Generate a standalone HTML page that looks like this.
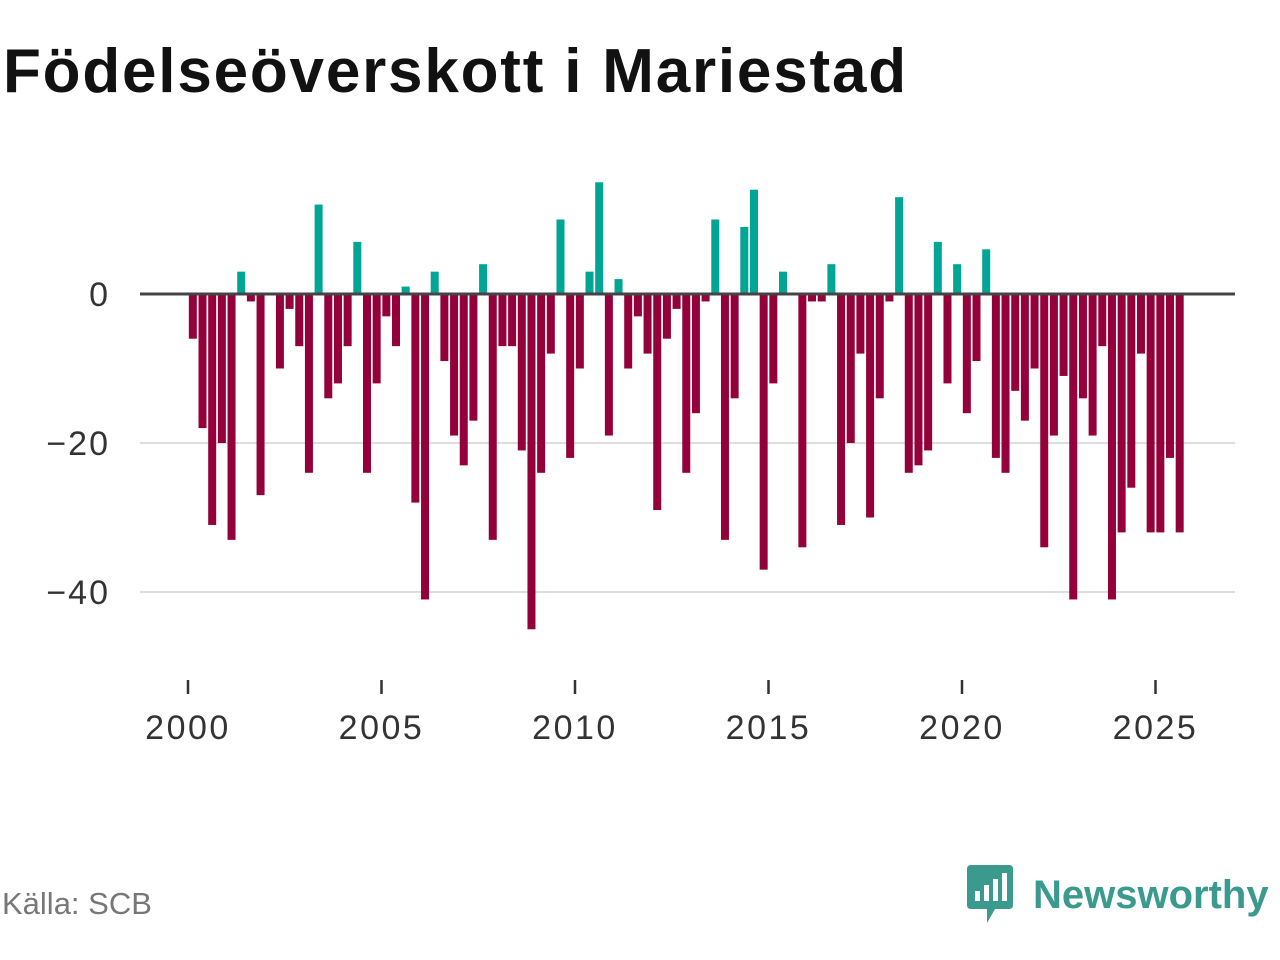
<!DOCTYPE html>
<html><head><meta charset="utf-8"><style>
body{margin:0;width:1280px;height:960px;background:#fff;overflow:hidden;font-family:"Liberation Sans",sans-serif}
#title{position:absolute;left:3px;top:36px;font-size:62px;font-weight:bold;color:#111;letter-spacing:1.8px;margin:0;white-space:nowrap}
#src{position:absolute;left:2px;top:886px;font-size:31px;color:#777}
#brand{position:absolute;left:965px;top:865px;display:flex;align-items:center}
#brand span{font-size:40px;font-weight:bold;color:#3a9a8e;margin-left:18px}
</style></head><body>
<h1 id="title">Födelseöverskott i Mariestad</h1>
<svg id="chart" width="1280" height="960" style="position:absolute;left:0;top:0"></svg>
<div id="src">Källa: SCB</div>
<div id="brand">
<svg width="50" height="60" viewBox="0 0 50 60"><path d="M2 4 Q2 0 6 0 L44 0 Q48 0 48 4 L48 40 Q48 44 44 44 L30 44 L22 58 L22 44 L6 44 Q2 44 2 40Z" fill="#3a9a8e"/><rect x="10" y="26" width="5" height="10" fill="#fff"/><rect x="19" y="20" width="5" height="16" fill="#fff"/><rect x="28" y="14" width="5" height="22" fill="#fff"/><rect x="37" y="8" width="5" height="28" fill="#fff"/></svg>
<span>Newsworthy</span></div>
<script>
const values = [-6,-18,-31,-20,-33,3,-1,-27,0,-10,-2,-7,-24,12,-14,-12,-7,7,-24,-12,-3,-7,1,-28,-41,3,-9,-19,-23,-17,4,-33,-7,-7,-21,-45,-24,-8,10,-22,-10,3,15,-19,2,-10,-3,-8,-29,-6,-2,-24,-16,-1,10,-33,-14,9,14,-37,-12,3,0,-34,-1,-1,4,-31,-20,-8,-30,-14,-1,13,-24,-23,-21,7,-12,4,-16,-9,6,-22,-24,-13,-17,-10,-34,-19,-11,-41,-14,-19,-7,-41,-32,-26,-8,-32,-32,-22,-32];
const startYear = 2000;
const yTicks = [0,-20,-40];
const yTickLabels = ["0","\u221220","\u221240"];
const xTicks = [2000,2005,2010,2015,2020,2025];
const NS="http://www.w3.org/2000/svg";
const svg=document.getElementById('chart');
const x=yr=>188+(yr-2000)*38.7;
const y=v=>294-v*7.45;
function mk(t,a){const e=document.createElementNS(NS,t);for(const k in a)e.setAttribute(k,a[k]);svg.appendChild(e);return e;}
yTicks.forEach((v,i)=>{
  if(v!==0){const g=mk('line',{x1:140,x2:1235,y1:y(v),y2:y(v),stroke:'#dddddd','stroke-width':2});
  
  }
  const t=mk('text',{x:110,y:y(v)+12,'text-anchor':'end','font-size':34,'letter-spacing':2,fill:'#333','font-family':'Liberation Sans, sans-serif'});
  t.textContent=yTickLabels[i];
  
  
});
values.forEach((v,i)=>{
  const cx=x(startYear+(i+0.5)/4);
  const top=v>=0?y(v):y(0);const h=Math.abs(y(v)-y(0));
  const r=mk('rect',{x:cx-4,y:top,width:8,height:h,fill:v>=0?'#00a596':'#93003a'});
  
  
});
const z=mk('line',{x1:140,x2:1235,y1:y(0),y2:y(0),stroke:'#444','stroke-width':3});


xTicks.forEach(yr=>{
  const tk=mk('line',{x1:x(yr),x2:x(yr),y1:680,y2:694,stroke:'#333','stroke-width':2.5});
  
  
  const t=mk('text',{x:x(yr),y:739,'text-anchor':'middle','font-size':34,'letter-spacing':2.5,fill:'#333','font-family':'Liberation Sans, sans-serif'});
  t.textContent=yr;
  
  
});
</script>
</body></html>
